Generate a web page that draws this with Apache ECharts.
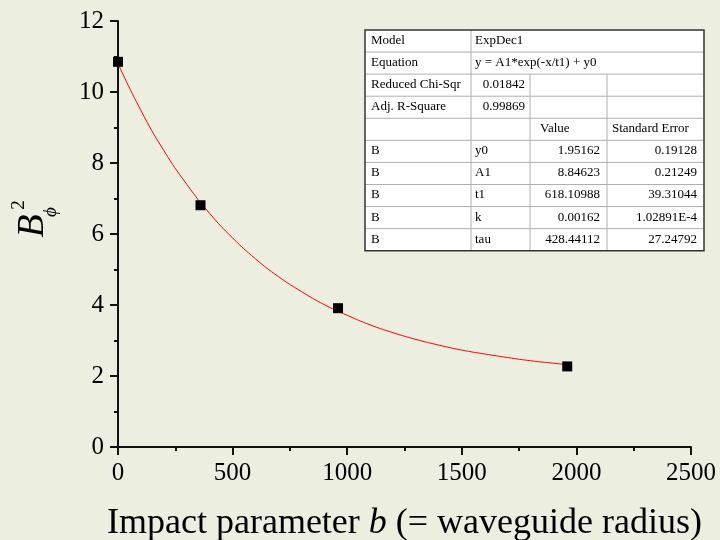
<!DOCTYPE html>
<html>
<head>
<meta charset="utf-8">
<script src="https://cdn.jsdelivr.net/npm/echarts@6/dist/echarts.min.js"></script>
<style>
html,body{margin:0;padding:0;background:#ECEFE0;}
#c{width:720px;height:540px;}
</style>
</head>
<body>
<div id="c"></div>
<script>
// Measured data points
const pointX = [0, 360, 960, 1960];
const pointY = [10.85, 6.81, 3.91, 2.27];
// Fitted curve
const curveX = [0, 100, 200, 300, 400, 500, 600, 700, 800, 900, 1000, 1100, 1200, 1300, 1400, 1500, 1600, 1700, 1800, 1900, 1960];
const curveY = [10.80, 9.48, 8.35, 7.40, 6.58, 5.89, 5.30, 4.80, 4.38, 4.01, 3.71, 3.44, 3.22, 3.03, 2.87, 2.73, 2.62, 2.52, 2.43, 2.36, 2.32];
// Fit report table
const tableRows = [
  ['Model', 'ExpDec1'],
  ['Equation', 'y = A1*exp(-x/t1) + y0'],
  ['Reduced Chi-Sqr', '0.01842', '', ''],
  ['Adj. R-Square', '0.99869', '', ''],
  ['', '', 'Value', 'Standard Error'],
  ['B', 'y0', '1.95162', '0.19128'],
  ['B', 'A1', '8.84623', '0.21249'],
  ['B', 't1', '618.10988', '39.31044'],
  ['B', 'k', '0.00162', '1.02891E-4'],
  ['B', 'tau', '428.44112', '27.24792']
];
const xTitle = 'Impact parameter ';
const xTitleItalic = 'b';
const xTitleEnd = ' (= waveguide radius)';

const FONT = '"Liberation Serif","Times New Roman",serif';
const chart = echarts.init(document.getElementById('c'));

// table graphics
const colEdges = [365, 471, 530, 607, 704];
const tTop = 30, rowH = 22.07;
const g = [];
g.push({type:'rect', shape:{x:colEdges[0], y:tTop, width:colEdges[4]-colEdges[0], height:rowH*tableRows.length}, style:{fill:'#fff', stroke:'none'}, z:10});
for (let r = 1; r < tableRows.length; r++) {
  g.push({type:'line', shape:{x1:colEdges[0], y1:tTop+r*rowH, x2:colEdges[4], y2:tTop+r*rowH}, style:{stroke:'#b0b0b0', lineWidth:1}, z:11});
}
g.push({type:'line', shape:{x1:colEdges[1], y1:tTop, x2:colEdges[1], y2:tTop+rowH*tableRows.length}, style:{stroke:'#b0b0b0', lineWidth:1}, z:11});
for (let c = 2; c < 4; c++) {
  g.push({type:'line', shape:{x1:colEdges[c], y1:tTop+2*rowH, x2:colEdges[c], y2:tTop+rowH*tableRows.length}, style:{stroke:'#b0b0b0', lineWidth:1}, z:11});
}
g.push({type:'rect', shape:{x:colEdges[0], y:tTop, width:colEdges[4]-colEdges[0], height:rowH*tableRows.length}, style:{fill:'none', stroke:'#333', lineWidth:1.5}, z:12});
tableRows.forEach((row, r) => {
  row.forEach((txt, c) => {
    if (!txt) return;
    let x, align = 'left';
    if (c === 0) x = colEdges[0] + 6;
    else if (c === 1) {
      if (r === 2 || r === 3) { x = colEdges[2] - 5; align = 'right'; }
      else x = colEdges[1] + 4;
    } else if (c === 2) {
      if (r === 4) x = colEdges[2] + 10;
      else { x = colEdges[3] - 7; align = 'right'; }
    } else {
      if (r === 4) x = colEdges[3] + 5;
      else { x = colEdges[4] - 7; align = 'right'; }
    }
    g.push({type:'text', x:x, y:tTop + r*rowH + rowH/2 - 0.5, z:13,
      style:{text:txt, fill:'#000', font:'13px ' + FONT, textAlign:align, textVerticalAlign:'middle'}});
  });
});
// y-axis title: B with subscript phi and superscript 2
g.push({type:'text', x:33, y:226, rotation:Math.PI/2, z:5,
  style:{text:'B', fill:'#000', font:'italic 38px ' + FONT, textAlign:'center', textVerticalAlign:'middle'}});
g.push({type:'text', x:19, y:205, rotation:Math.PI/2, z:5,
  style:{text:'2', fill:'#000', font:'19px ' + FONT, textAlign:'center', textVerticalAlign:'middle'}});
g.push({type:'text', x:51, y:212, rotation:Math.PI/2, z:5,
  style:{text:'\u03D5', fill:'#000', font:'italic 19px ' + FONT, textAlign:'center', textVerticalAlign:'middle'}});

const axisCommon = {
  axisLine:{show:true, onZero:false, lineStyle:{color:'#111', width:2}},
  axisTick:{show:true, inside:false, length:8, lineStyle:{color:'#111', width:2}},
  minorTick:{show:true, splitNumber:2, length:4, lineStyle:{color:'#111', width:2}},
  splitLine:{show:false},
  minorSplitLine:{show:false}
};
const fmt = v => String(v);

chart.setOption({
  backgroundColor:'#ECEFE0',
  animation:false,
  grid:{left:118, right:29, top:21, bottom:93, containLabel:false, outerBoundsMode:'none'},
  xAxis:Object.assign({type:'value', min:0, max:2500, interval:500,
    name:'{n|' + xTitle + '}{i|' + xTitleItalic + '}{n|' + xTitleEnd + '}',
    nameLocation:'middle', nameGap:59,
    nameTextStyle:{rich:{n:{fontSize:36, fontFamily:FONT, color:'#000'}, i:{fontSize:36, fontFamily:FONT, fontStyle:'italic', color:'#000'}}}
  }, axisCommon, {axisLabel:{color:'#000', fontSize:25, fontFamily:FONT, margin:14, formatter:fmt}}),
  yAxis:Object.assign({type:'value', min:0, max:12, interval:2}, axisCommon, {axisLabel:{color:'#000', fontSize:25, fontFamily:FONT, margin:14, formatter:fmt}}),
  graphic:g,
  series:[
    {type:'line', data:curveX.map((x,i)=>[x, curveY[i]]), smooth:true, showSymbol:false,
      lineStyle:{color:'#ff0000', width:1}, z:2},
    {type:'scatter', data:pointX.map((x,i)=>[x, pointY[i]]), symbol:'rect', symbolSize:10,
      itemStyle:{color:'#000', opacity:1}, z:3}
  ]
});
</script>
</body>
</html>
